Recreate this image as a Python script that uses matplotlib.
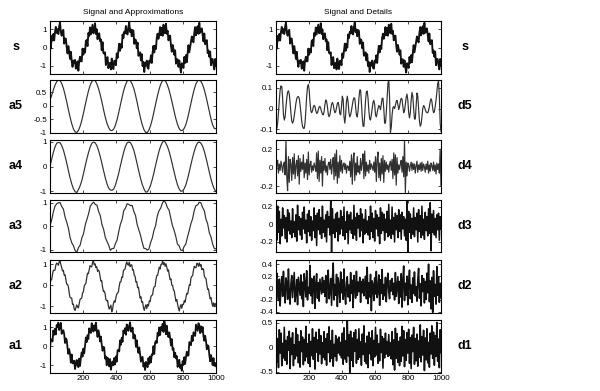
import numpy as np
import matplotlib
matplotlib.use("Agg")
import matplotlib.pyplot as plt

# ---------------- data (values read/estimated from the picture) ----------------
s = [0.12, -0.06, 0.63, 0.38, 0.74, 0.38, 0.86, 1.12, 0.79, 1.00,
     0.73, 1.15, 1.35, 0.84, 0.64, 0.89, 0.96, 0.21, 0.49, 0.48,
     0.02, -0.32, 0.08, -0.23, -0.62, -0.23, -0.71, -1.05, -0.71, -0.85,
     -0.67, -1.15, -1.04, -0.75, -1.26, -0.73, -0.50, -0.75, -0.75, -0.06,
     -0.39, -0.08, -0.27, 0.35, 0.41, 0.08, 0.79, 0.63, 1.09, 0.71,
     0.97, 1.24, 0.77, 0.89, 1.32, 0.73, 0.99, 0.45, 0.74, 0.77,
     0.34, 0.44, -0.15, 0.29, -0.30, -0.33, -0.26, -0.95, -0.59, -0.52,
     -1.12, -0.88, -0.83, -1.19, -0.60, -1.06, -1.17, -0.72, -0.72, -0.96,
     -0.32, -0.56, -0.17, 0.21, -0.18, 0.19, -0.01, 0.71, 0.51, 0.86,
     0.77, 1.17, 0.76, 0.71, 1.12, 1.36, 0.84, 0.98, 0.61, 0.95,
     0.91, 0.20, 0.44, 0.40, -0.04, 0.27, -0.45, -0.38, -0.26, -0.70,
     -0.36, -1.01, -0.79, -1.33, -0.82, -0.98, -0.71, -1.10, -1.15, -0.71,
     -0.81, -0.42, -0.84, -0.30, 0.09, -0.27, 0.10, -0.08, 0.53, 0.75,
     0.47, 0.69, 1.11, 0.67, 1.07, 0.64, 1.24, 1.05, 0.77, 1.29,
     0.74, 0.91, 0.39, 0.54, 0.65, 0.12, -0.23, 0.14, -0.09, -0.39,
     -0.15, -0.88, -0.64, -0.64, -1.05, -0.70, -1.06, -1.36, -0.85, -0.95,
     -1.11, -0.51, -0.84, -0.41, -0.80, -0.30, 0.13, -0.26, 0.04, 0.36,
     0.60, 0.38, 0.28, 0.82, 1.11, 0.66, 0.99, 1.16, 0.74, 1.34,
     0.80, 0.99, 1.04, 0.66, 0.33, 0.76, 0.18, 0.35, 0.40, -0.30,
     -0.16, -0.50, -0.22, -0.96, -0.62, -0.63, -0.95, -1.19, -0.62, -1.00]

a1 = [-0.10, 0.37, 0.35, 0.25, 0.83, 0.60, 0.92, 0.62, 1.12, 1.01,
      1.24, 0.85, 1.06, 1.23, 0.65, 0.76, 0.84, 0.64, 0.17, 0.41,
      0.34, -0.08, -0.40, -0.15, -0.40, -0.86, -0.43, -0.90, -0.86, -0.76,
      -1.20, -0.90, -0.72, -1.02, -1.10, -0.65, -1.04, -0.60, -0.32, -0.55,
      -0.12, -0.38, 0.04, 0.46, 0.22, 0.58, 0.38, 0.94, 0.75, 0.70,
      1.21, 1.04, 0.77, 1.10, 0.83, 1.24, 0.79, 0.49, 0.84, 0.63,
      0.25, 0.51, 0.10, -0.24, -0.03, -0.06, -0.65, -0.54, -1.00, -0.60,
      -0.80, -1.06, -0.67, -1.24, -0.97, -0.80, -1.00, -0.62, -0.96, -0.53,
      -0.81, -0.21, -0.20, -0.27, 0.31, 0.08, 0.45, 0.23, 0.83, 0.68,
      0.95, 0.60, 1.15, 1.02, 0.81, 1.09, 1.26, 0.78, 0.77, 0.98,
      0.41, 0.62, 0.56, -0.03, 0.31, -0.08, -0.35, -0.06, -0.44, -0.81,
      -0.59, -0.56, -1.07, -0.88, -1.25, -0.82, -0.98, -1.10, -0.62, -0.93,
      -0.54, -0.85, -0.43, -0.45, 0.01, -0.41, 0.19, 0.28, 0.17, 0.71,
      0.55, 0.99, 0.59, 1.02, 0.84, 1.18, 0.75, 1.35, 1.13, 0.63,
      1.08, 0.66, 0.48, 0.73, 0.44, 0.04, 0.38, -0.18, -0.11, -0.58,
      -0.34, -0.64, -0.52, -1.09, -0.78, -0.71, -1.14, -0.98, -1.29, -0.78,
      -0.98, -0.57, -0.93, -0.58, -0.29, -0.50, -0.48, 0.22, 0.14, 0.05,
      0.55, 0.27, 0.73, 0.68, 0.54, 1.14, 0.98, 0.81, 1.21, 1.09,
      0.69, 1.05, 0.76, 1.01, 0.51, 0.29, 0.55, 0.28, -0.16, 0.05,
      0.01, -0.46, -0.79, -0.46, -0.69, -0.99, -0.62, -1.03, -0.88, -1.05]

a2 = [0.05, 0.25, 0.26, 0.51, 0.71, 0.70, 0.72, 0.96, 1.05, 1.02,
      0.95, 1.11, 1.15, 0.99, 0.83, 0.68, 0.71, 0.48, 0.50, 0.27,
      0.05, 0.04, -0.06, -0.36, -0.58, -0.61, -0.61, -0.91, -0.90, -1.12,
      -1.20, -1.08, -0.94, -1.02, -1.08, -0.88, -0.68, -0.64, -0.62, -0.37,
      -0.32, -0.05, 0.04, 0.08, 0.35, 0.57, 0.55, 0.75, 0.93, 0.89,
      0.87, 1.08, 1.16, 0.97, 1.02, 0.84, 0.88, 0.66, 0.72, 0.66,
      0.43, 0.20, 0.22, -0.08, -0.30, -0.28, -0.39, -0.69, -0.74, -0.72,
      -1.00, -1.14, -1.04, -0.95, -1.27, -1.15, -0.88, -0.75, -0.81, -0.59,
      -0.43, -0.37, -0.32, -0.04, 0.16, 0.16, 0.39, 0.37, 0.69, 0.74,
      0.77, 0.97, 1.11, 1.00, 0.95, 1.10, 0.89, 0.96, 0.97, 0.72,
      0.73, 0.47, 0.43, 0.15, 0.17, -0.12, -0.09, -0.36, -0.61, -0.55,
      -0.81, -0.79, -1.06, -1.20, -1.04, -0.93, -1.11, -0.92, -0.99, -0.75,
      -0.78, -0.54, -0.48, -0.46, -0.17, -0.08, -0.05, 0.26, 0.46, 0.47,
      0.67, 0.86, 0.77, 0.99, 0.99, 1.17, 0.98, 1.07, 0.90, 1.02,
      0.86, 0.67, 0.73, 0.47, 0.26, 0.30, 0.00, -0.01, -0.23, -0.27,
      -0.54, -0.76, -0.68, -0.91, -1.09, -1.23, -1.03, -0.92, -1.10, -0.91,
      -0.92, -0.73, -0.81, -0.57, -0.39, -0.42, -0.20, 0.01, -0.01, 0.35,
      0.42, 0.46, 0.72, 0.90, 0.84, 0.83, 1.04, 1.03, 0.90, 1.06,
      0.91, 0.98, 0.74, 0.79, 0.76, 0.44, 0.35, 0.32, 0.03, -0.20,
      -0.18, -0.44, -0.65, -0.59, -0.83, -1.00, -0.84, -1.02, -0.87, -0.95]

a3 = [0.02, 0.27, 0.61, 0.86, 0.96, 1.00, 1.01, 0.84, 0.73, 0.39,
      0.17, -0.09, -0.49, -0.71, -0.83, -1.04, -1.10, -0.91, -0.80, -0.50,
      -0.32, 0.05, 0.29, 0.53, 0.85, 0.96, 1.03, 0.93, 0.90, 0.63,
      0.45, 0.07, -0.14, -0.48, -0.65, -0.81, -1.03, -0.95, -0.95, -0.74,
      -0.59, -0.23, 0.09, 0.29, 0.67, 0.77, 0.96, 0.93, 0.88, 0.89,
      0.63, 0.46, 0.07, -0.16, -0.39, -0.69, -0.94, -0.95, -1.02, -0.97,
      -0.70, -0.50, -0.18, 0.03, 0.44, 0.66, 0.77, 0.98, 1.10, 1.00,
      0.80, 0.69, 0.36, 0.03, -0.17, -0.43, -0.76, -0.83, -1.02, -1.04,
      -0.86, -0.76, -0.45, -0.20, 0.10, 0.31, 0.66, 0.88, 0.91, 1.02,
      1.00, 0.80, 0.67, 0.31, 0.11, -0.27, -0.46, -0.76, -0.95, -0.97]

a4 = [0.00, 0.30, 0.58, 0.80, 0.95, 0.98, 0.97, 0.85, 0.67, 0.42,
      0.14, -0.17, -0.46, -0.71, -0.90, -1.02, -1.05, -0.93, -0.77, -0.56,
      -0.27, 0.03, 0.32, 0.58, 0.80, 0.95, 1.00, 0.96, 0.84, 0.64,
      0.40, 0.12, -0.18, -0.46, -0.70, -0.87, -0.95, -0.96, -0.91, -0.75,
      -0.52, -0.26, 0.04, 0.33, 0.60, 0.82, 0.96, 1.00, 0.97, 0.84,
      0.66, 0.40, 0.10, -0.20, -0.48, -0.72, -0.90, -1.03, -1.03, -0.92,
      -0.75, -0.52, -0.24, 0.06, 0.35, 0.62, 0.83, 0.98, 1.07, 0.96,
      0.82, 0.63, 0.37, 0.08, -0.21, -0.49, -0.73, -0.90, -1.00, -0.99,
      -0.90, -0.74, -0.51, -0.23, 0.07, 0.36, 0.61, 0.83, 0.96, 1.00,
      0.95, 0.83, 0.63, 0.37, 0.08, -0.22, -0.50, -0.74, -0.91, -1.02]

a5 = [0.20, 0.38, 0.58, 0.76, 0.89, 0.95, 0.93, 0.82, 0.64, 0.40,
      0.13, -0.16, -0.44, -0.68, -0.87, -0.98, -1.00, -0.92, -0.76, -0.54,
      -0.27, 0.02, 0.30, 0.56, 0.76, 0.90, 0.95, 0.92, 0.80, 0.62,
      0.39, 0.12, -0.17, -0.44, -0.66, -0.82, -0.92, -0.93, -0.87, -0.73,
      -0.52, -0.26, 0.03, 0.31, 0.57, 0.77, 0.91, 0.95, 0.92, 0.80,
      0.63, 0.39, 0.11, -0.19, -0.47, -0.71, -0.89, -0.99, -1.00, -0.91,
      -0.74, -0.51, -0.23, 0.06, 0.34, 0.59, 0.79, 0.92, 0.95, 0.90,
      0.77, 0.58, 0.34, 0.07, -0.21, -0.47, -0.69, -0.85, -0.93, -0.92,
      -0.85, -0.71, -0.49, -0.22, 0.07, 0.35, 0.60, 0.80, 0.92, 0.95,
      0.90, 0.78, 0.59, 0.35, 0.07, -0.21, -0.50, -0.72, -0.85, -0.86]

d1 = [0.25, -0.31, 0.18, -0.42, 0.36, -0.12, 0.29, -0.38, 0.08, -0.22,
      0.41, -0.27, 0.14, -0.35, 0.22, -0.06, 0.33, -0.44, 0.19, -0.15,
      0.30, -0.38, 0.05, -0.24, 0.39, -0.18, 0.26, -0.32, 0.11, -0.41,
      0.34, -0.09, 0.21, -0.36, 0.16, -0.28, 0.43, -0.20, 0.07, -0.33,
      0.27, -0.40, 0.12, -0.17, 0.38, -0.25, 0.20, -0.45, 0.31, -0.10,
      0.15, -0.29, 0.37, -0.14, 0.24, -0.34, 0.09, -0.21, 0.32, -0.26,
      0.18, -0.37, 0.28, -0.11, 0.42, -0.30, 0.13, -0.23, 0.35, -0.39,
      0.06, -0.19, 0.24, -0.28, 0.17, -0.12, 0.21, -0.16, 0.10, -0.22,
      0.29, -0.35, 0.40, -0.24, 0.13, -0.31, 0.55, -0.18, 0.26, -0.52,
      0.33, -0.27, 0.19, -0.40, 0.30, -0.08, 0.36, -0.33, 0.16, -0.25,
      0.38, -0.21, 0.11, -0.37, 0.27, -0.15, 0.44, -0.29, 0.08, -0.34,
      0.23, -0.42, 0.31, -0.13, 0.19, -0.26, 0.34, -0.38, 0.14, -0.20,
      0.41, -0.16, 0.25, -0.33, 0.07, -0.28, 0.37, -0.11, 0.22, -0.43,
      0.18, -0.22, 0.29, -0.14, 0.12, -0.19, 0.26, -0.17, 0.09, -0.24,
      0.32, -0.36, 0.15, -0.47, 0.39, -0.23, 0.28, -0.31, 0.12, -0.38,
      0.21, -0.29, 0.43, -0.18, 0.34, -0.40, 0.16, -0.27, 0.30, -0.12,
      0.37, -0.33, 0.20, -0.44, 0.25, -0.09, 0.41, -0.35, 0.18, -0.28,
      0.27, -0.39, 0.13, -0.21, 0.46, -0.30, 0.22, -0.16, 0.35, -0.48,
      0.19, -0.26, 0.38, -0.32, 0.10, -0.41, 0.29, -0.14, 0.44, -0.23,
      0.31, -0.37, 0.24, -0.19, 0.51, -0.29, 0.17, -0.42, 0.36, -0.11]

d2 = [0.12, 0.25, -0.08, -0.21, 0.15, -0.30, 0.04, 0.19, -0.14, 0.28,
      -0.06, -0.25, 0.17, 0.09, -0.19, 0.32, -0.11, -0.27, 0.08, 0.21,
      -0.16, 0.05, 0.26, -0.23, -0.09, 0.14, -0.28, 0.18, 0.03, -0.12,
      0.22, -0.18, 0.10, -0.31, 0.24, 0.07, -0.15, 0.29, -0.20, 0.01,
      -0.09, 0.38, -0.13, 0.16, -0.26, 0.11, 0.20, -0.34, 0.06, 0.24,
      -0.17, 0.09, -0.22, 0.15, 0.03, -0.10, 0.18, -0.07, 0.12, -0.14,
      0.21, -0.25, 0.08, 0.30, -0.18, -0.05, 0.16, -0.29, 0.13, 0.42,
      -0.20, 0.06, -0.12, 0.23, -0.31, 0.17, 0.02, -0.24, 0.27, -0.08,
      0.14, -0.19, 0.32, -0.11, -0.27, 0.09, 0.19, -0.15, 0.05, -0.22,
      0.26, -0.09, 0.13, -0.33, 0.21, 0.04, -0.17, 0.28, -0.12, 0.10,
      -0.06, 0.18, -0.24, 0.11, -0.08, 0.15, -0.13, 0.07, 0.20, -0.18,
      0.35, -0.26, 0.09, -0.15, 0.23, -0.38, 0.12, 0.05, -0.21, 0.17,
      -0.10, 0.28, -0.16, -0.04, 0.22, -0.29, 0.14, -0.09, 0.31, -0.19,
      0.06, -0.13, 0.18, -0.23, 0.10, 0.25, -0.07, -0.18, 0.13, -0.05,
      0.16, -0.11, 0.08, -0.20, 0.26, -0.14, 0.03, 0.19, -0.26, 0.11,
      -0.15, 0.24, -0.32, 0.13, 0.37, -0.21, 0.08, -0.12, 0.20, -0.28,
      0.09, 0.30, -0.18, 0.05, -0.24, 0.17, -0.09, 0.27, -0.13, 0.02,
      -0.22, 0.14, 0.33, -0.17, 0.07, -0.30, 0.21, -0.06, 0.16, -0.25,
      0.11, -0.19, 0.25, -0.08, 0.40, -0.23, 0.12, -0.35, 0.18, -0.41,
      0.29, -0.14, 0.06, -0.27, 0.36, -0.12, 0.19, -0.24, 0.08, -0.16]

d3 = [0.12, -0.18, 0.21, -0.09, 0.15, -0.22, 0.06, -0.13, 0.19, -0.04,
      0.10, -0.16, 0.08, -0.20, 0.17, -0.07, 0.13, -0.11, 0.04, -0.15,
      0.18, -0.09, 0.03, -0.14, 0.11, -0.19, 0.22, -0.06, 0.09, -0.12,
      0.07, -0.17, 0.14, -0.05, 0.20, -0.10, 0.05, -0.21, 0.12, -0.08,
      0.16, -0.13, 0.09, -0.18, 0.04, -0.07, 0.19, -0.15, 0.10, -0.24,
      0.13, -0.06, 0.17, -0.11, 0.08, -0.16, 0.21, -0.09, 0.05, -0.14,
      0.11, -0.20, 0.15, -0.03, 0.09, -0.12, 0.28, -0.32, 0.18, -0.10,
      0.06, -0.15, 0.12, -0.08, 0.14, -0.19, 0.07, -0.11, 0.16, -0.05,
      0.09, -0.13, 0.20, -0.17, 0.03, -0.09, 0.15, -0.22, 0.11, -0.06,
      0.14, -0.10, 0.05, -0.16, 0.22, -0.12, 0.08, -0.18, 0.13, -0.04,
      0.10, -0.14, 0.18, -0.07, 0.12, -0.21, 0.06, -0.11, 0.17, -0.09,
      0.04, -0.12, 0.09, -0.17, 0.21, -0.08, 0.13, -0.15, 0.07, -0.19,
      0.16, -0.05, 0.11, -0.13, 0.08, -0.22, 0.19, -0.10, 0.14, -0.07,
      0.12, -0.18, 0.06, -0.09, 0.15, -0.14, 0.23, -0.12, 0.05, -0.16,
      0.20, -0.11, 0.08, -0.20, 0.13, -0.06, 0.10, -0.15, 0.17, -0.08,
      0.11, -0.17, 0.14, -0.05, 0.09, -0.13, 0.06, -0.18, 0.27, -0.32,
      0.15, -0.09, 0.12, -0.16, 0.07, -0.11, 0.19, -0.14, 0.08, -0.06,
      0.13, -0.20, 0.17, -0.08, 0.10, -0.15, 0.21, -0.12, 0.06, -0.17,
      0.14, -0.07, 0.09, -0.13, 0.18, -0.10, 0.25, -0.30, 0.12, -0.09,
      0.16, -0.12, 0.07, -0.15, 0.11, -0.06, 0.13, -0.18, 0.09, -0.05]

d4 = [-0.12, 0.05, 0.08, -0.06, 0.04, -0.03, 0.07, 0.02, -0.05, 0.03,
      0.06, -0.08, 0.30, -0.10, -0.25, 0.12, -0.16, 0.09, 0.04, -0.14,
      0.11, -0.07, 0.15, -0.12, 0.02, 0.08, -0.09, 0.13, -0.18, 0.10,
      -0.04, 0.06, -0.02, 0.14, -0.11, 0.05, -0.06, 0.09, -0.13, 0.17,
      -0.08, 0.03, 0.07, -0.05, 0.02, -0.03, 0.05, 0.01, -0.04, 0.16,
      -0.12, 0.18, -0.15, 0.08, -0.06, 0.12, -0.20, 0.07, -0.03, 0.10,
      -0.05, 0.02, -0.08, 0.04, 0.06, -0.02, 0.09, -0.07, 0.03, 0.11,
      -0.13, 0.15, -0.09, 0.19, -0.17, 0.06, -0.11, 0.13, -0.04, 0.08,
      -0.06, 0.03, 0.05, -0.02, 0.04, -0.06, 0.02, 0.01, -0.03, 0.07,
      -0.10, 0.14, -0.18, 0.09, 0.16, -0.14, 0.05, -0.08, 0.12, -0.05,
      0.02, -0.07, 0.10, -0.03, 0.05, 0.15, -0.12, 0.18, -0.09, 0.06,
      -0.04, 0.03, -0.06, 0.08, -0.02, 0.04, 0.01, -0.03, 0.06, -0.05,
      0.12, -0.15, 0.09, 0.17, -0.11, 0.05, -0.14, 0.10, -0.07, 0.13,
      -0.16, 0.08, -0.04, 0.06, -0.02, 0.03, -0.05, 0.04, 0.07, -0.03,
      0.09, -0.12, 0.16, -0.08, 0.14, -0.19, 0.11, -0.06, 0.03, -0.02,
      0.04, 0.08, -0.05, 0.12, -0.10, 0.30, -0.27, 0.06, -0.09, 0.05,
      0.03, -0.04, 0.02, 0.06, -0.03, 0.05, -0.02, 0.04, -0.06, 0.02,
      0.07, -0.05, 0.03, -0.02, 0.05, -0.04, 0.06, -0.03, 0.04, 0.01,
      -0.05, 0.04, -0.02, 0.07, -0.06, 0.03, -0.04, 0.05, 0.02, -0.03,
      0.06, -0.04, 0.03, -0.07, 0.05, -0.02, 0.04, -0.06, 0.20, -0.20]

d5 = [-0.086, -0.095, -0.07, -0.02, 0.04, 0.09, 0.11, 0.105, 0.05, -0.03,
      -0.055, -0.04, 0.01, 0.05, 0.08, 0.086, 0.07, 0.03, -0.02, -0.06,
      -0.07, -0.06, -0.035, -0.005, 0.025, 0.047, 0.057, 0.058, 0.05, 0.02,
      -0.02, -0.06, -0.085, -0.095, -0.095, -0.07, -0.01, 0.06, 0.105, 0.117,
      0.09, 0.03, -0.01, -0.02, -0.01, 0.008, 0.016, 0.01, -0.01, -0.023,
      -0.02, -0.005, 0.008, 0.011, 0.0, -0.015, -0.027, -0.03, -0.015, 0.02,
      0.042, 0.035, 0.01, -0.025, -0.039, -0.03, -0.005, 0.02, 0.03, 0.02,
      -0.005, -0.02, -0.015, 0.005, 0.025, 0.03, 0.01, -0.025, -0.03, 0.01,
      0.06, 0.045, -0.04, -0.07, -0.03, 0.035, 0.06, 0.03, -0.02, -0.04,
      -0.03, -0.01, 0.015, 0.04, 0.052, 0.05, 0.01, -0.03, -0.04, -0.01,
      0.05, 0.09, 0.09, 0.03, -0.04, -0.085, -0.085, -0.03, 0.04, 0.08,
      0.085, 0.05, -0.01, -0.05, -0.055, -0.03, 0.0, 0.03, 0.04, 0.02,
      -0.03, -0.04, -0.02, 0.0, 0.015, 0.01, -0.005, 0.02, 0.05, 0.05,
      0.0, -0.07, -0.07, -0.02, 0.05, 0.12, 0.14, 0.05, -0.115, -0.09,
      -0.03, 0.005, 0.01, 0.0, 0.015, 0.035, 0.04, 0.02, -0.005, 0.01,
      0.035, 0.05, 0.045, 0.01, -0.02, -0.01, 0.02, 0.055, 0.07, 0.04,
      -0.02, -0.045, -0.02, 0.04, 0.078, 0.06, 0.0, -0.05, -0.05, 0.01,
      0.075, 0.06, 0.0, -0.06, -0.085, -0.075, -0.04, 0.0, 0.015, 0.01,
      -0.005, -0.015, -0.02, -0.02, -0.01, 0.01, 0.035, 0.048, 0.035, 0.0,
      -0.02, -0.015, 0.01, 0.04, 0.08, 0.12, 0.133, 0.06, -0.07, -0.11]

left_names = ["s", "a5", "a4", "a3", "a2", "a1"]
right_names = ["s", "d5", "d4", "d3", "d2", "d1"]
left_series = [s, a5, a4, a3, a2, a1]
right_series = [s, d5, d4, d3, d2, d1]
left_ylims = [(-1.41, 1.44), (-1.0, 0.95), (-1.05, 1.08), (-1.12, 1.12), (-1.3, 1.2), (-1.38, 1.38)]
right_ylims = [(-1.41, 1.44), (-0.115, 0.138), (-0.27, 0.30), (-0.32, 0.28), (-0.41, 0.47), (-0.52, 0.56)]
left_yticks = [[-1, 0, 1], [-1, -0.5, 0, 0.5], [-1, 0, 1], [-1, 0, 1], [-1, 0, 1], [-1, 0, 1]]
left_yticklabels = [["-1", "0", "1"], ["-1", "-0.5", "0", "0.5"], ["-1", "0", "1"],
                    ["-1", "0", "1"], ["-1", "0", "1"], ["-1", "0", "1"]]
right_yticks = [[-1, 0, 1], [-0.1, 0, 0.1], [-0.2, 0, 0.2], [-0.2, 0, 0.2],
                [-0.4, -0.2, 0, 0.2, 0.4], [-0.5, 0, 0.5]]
right_yticklabels = [["-1", "0", "1"], ["-0.1", "0", "0.1"], ["-0.2", "0", "0.2"],
                     ["-0.2", "0", "0.2"], ["-0.4", "-0.2", "0", "0.2", "0.4"], ["-0.5", "0", "0.5"]]
xticks = [200, 400, 600, 800, 1000]
xticklabels = ["200", "400", "600", "800", "1000"]
titles = ["Signal and Approximations", "Signal and Details"]

# ---------------- figure ----------------
W, H = 600, 391
fig = plt.figure(figsize=(W / 100, H / 100), dpi=100)
FONT = "Liberation Sans"

tops = [21, 80, 140, 200, 260, 320]
ah = 52.5
cols = [(50, 166), (276, 165)]
# line widths per (column, row)
widths = {("L", 0): 1.35, ("L", 5): 1.3, ("L", 4): 0.9,
          ("R", 0): 1.35, ("R", 3): 1.1, ("R", 4): 1.15, ("R", 5): 1.15}


def make_axes(col, row):
    x0, w = cols[col]
    t = tops[row]
    return fig.add_axes([x0 / W, 1 - (t + ah) / H, w / W, ah / H])


for col, (names, series, ylims, yt, ytl) in enumerate([
        (left_names, left_series, left_ylims, left_yticks, left_yticklabels),
        (right_names, right_series, right_ylims, right_yticks, right_yticklabels)]):
    for row in range(6):
        ax = make_axes(col, row)
        y = series[row]
        x = np.linspace(1, 1000, len(y))
        key = ("L" if col == 0 else "R", row)
        lw = widths.get(key, 0.85)
        ax.plot(x, y, color="#111111" if lw > 1 else "#303030", lw=lw)
        ax.set_xlim(1, 1000)
        ax.set_ylim(*ylims[row])
        ax.set_yticks(yt[row])
        ax.set_yticklabels(ytl[row], fontsize=5.8, family=FONT)
        ax.set_xticks(xticks)
        if row == 5:
            ax.set_xticklabels(xticklabels, fontsize=5.8, family=FONT)
        else:
            ax.set_xticklabels([])
        ax.tick_params(direction="in", length=2.2, width=0.5, top=True, right=True, pad=2)
        for sp in ax.spines.values():
            sp.set_linewidth(0.8)
        if row == 0:
            ax.set_title(titles[col], fontsize=6, family=FONT, pad=5)
        yc = 1 - (tops[row] + ah / 2) / H
        xl = 16 / W if col == 0 else 465 / W
        fig.text(xl, yc, names[row], fontsize=9, fontweight="bold", family=FONT,
                 ha="center", va="center")

fig.savefig("out.png", dpi=100)
